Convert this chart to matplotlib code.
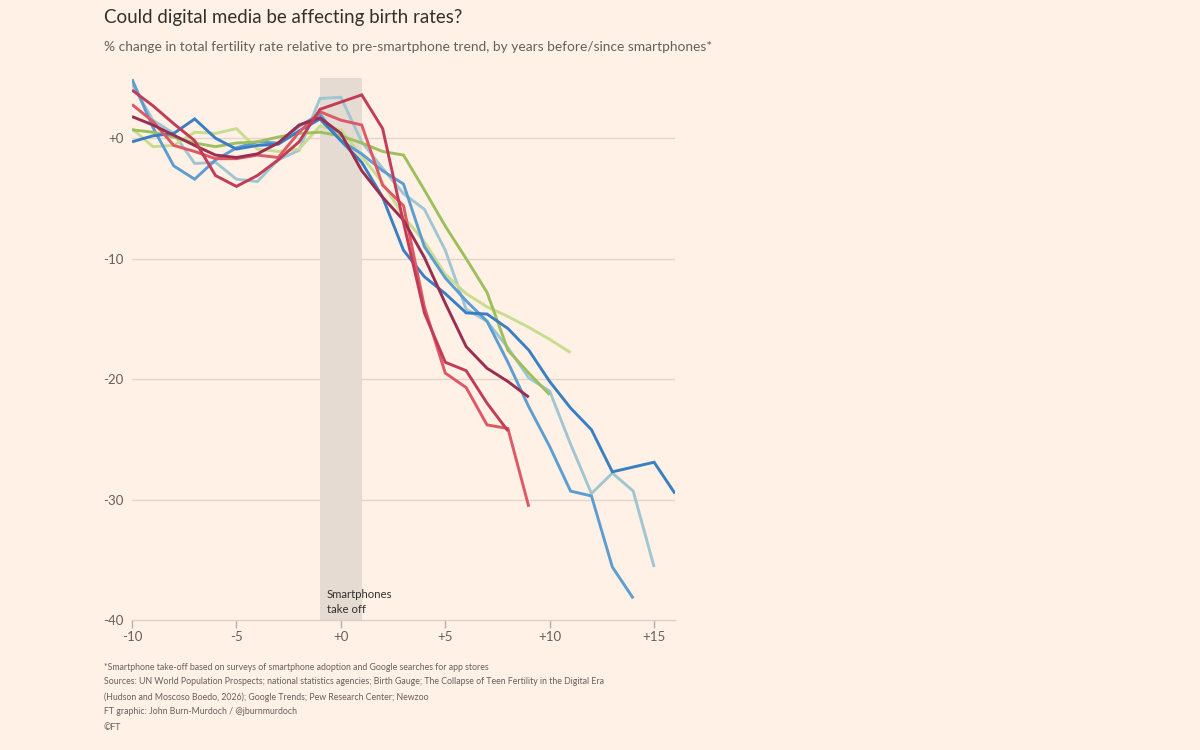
import matplotlib
matplotlib.use("Agg")
import matplotlib.pyplot as plt

# ---------------- data ----------------
years_b1 = list(range(-10, 17))
dark_blue = [-0.3, 0.2, 0.4, 1.6, 0.0, -0.9, -0.6, -0.5, 0.6, 1.6, -0.2, -2.0, -4.9, -9.3,
             -11.5, -12.9, -14.5, -14.6, -15.8, -17.6, -20.2, -22.4, -24.2, -27.7, -27.3, -26.9, -29.5]

years_b2 = list(range(-10, 15))
mid_blue = [4.9, 0.9, -2.3, -3.4, -1.8, -0.8, -0.3, -0.4, 1.0, 2.0, -0.2, -1.3, -2.7, -3.8,
            -9.0, -11.6, -13.5, -15.2, -18.6, -22.3, -25.6, -29.3, -29.7, -35.6, -38.2]

years_b3 = list(range(-10, 16))
light_blue = [4.5, 1.5, 0.4, -2.1, -2.0, -3.4, -3.6, -1.8, -1.0, 3.3, 3.4, -0.3, -2.5, -4.6,
              -5.9, -9.3, -14.2, -15.2, -17.4, -19.9, -21.0, -25.4, -29.5, -27.8, -29.3, -35.6]

years_g1 = list(range(-10, 12))
light_green = [0.8, -0.7, -0.6, 0.5, 0.4, 0.8, -0.9, -1.1, -0.9, 1.0, 0.7, -1.5, -3.7, -6.5,
               -8.6, -11.3, -12.9, -14.0, -14.8, -15.7, -16.7, -17.8]

years_g2 = list(range(-10, 11))
green = [0.7, 0.5, 0.1, -0.4, -0.7, -0.4, -0.3, 0.1, 0.4, 0.5, 0.2, -0.4, -1.1, -1.4,
         -4.3, -7.3, -10.0, -12.8, -17.6, -19.5, -21.3]

years_r1 = list(range(-10, 10))
maroon = [1.8, 1.1, 0.25, -0.6, -1.4, -1.6, -1.3, -0.4, 1.1, 1.7, 0.4, -2.7, -4.9, -6.8,
          -9.9, -13.7, -17.3, -19.1, -20.2, -21.5]

years_r2 = list(range(-10, 9))
crimson = [4.0, 2.7, 1.2, -0.2, -3.1, -4.0, -3.1, -1.8, -0.3, 2.4, 3.0, 3.6, 0.8, -7.0,
           -14.5, -18.6, -19.3, -22.0, -24.3]

years_r3 = list(range(-10, 10))
red = [2.8, 1.4, -0.6, -1.1, -1.7, -1.7, -1.4, -1.6, 0.5, 2.2, 1.5, 1.1, -3.9, -5.6,
       -14.0, -19.5, -20.7, -23.8, -24.1, -30.6]

series = [
    (years_b3, light_blue, "#a0c6d3"),
    (years_g1, light_green, "#c9dc8f"),
    (years_b2, mid_blue, "#5d9dd1"),
    (years_g2, green, "#9dbf5e"),
    (years_b1, dark_blue, "#3a7ec3"),
    (years_r3, red, "#de5865"),
    (years_r1, maroon, "#9b2d51"),
    (years_r2, crimson, "#c23b57"),
]

x_ticks = [-10, -5, 0, 5, 10, 15]
x_tick_labels = ["-10", "-5", "+0", "+5", "+10", "+15"]
y_ticks = [0, -10, -20, -30, -40]
y_tick_labels = ["+0", "-10", "-20", "-30", "-40"]

title = "Could digital media be affecting birth rates?"
subtitle = "% change in total fertility rate relative to pre-smartphone trend, by years before/since smartphones*"
notes = [
    "*Smartphone take-off based on surveys of smartphone adoption and Google searches for app stores",
    "Sources: UN World Population Prospects; national statistics agencies; Birth Gauge; The Collapse of Teen Fertility in the Digital Era",
    "(Hudson and Moscoso Boedo, 2026); Google Trends; Pew Research Center; Newzoo",
    "FT graphic: John Burn-Murdoch / @jburnmurdoch",
    "\u00a9FT",
]

# ---------------- style ----------------
BG = "#fff1e5"
TXT = "#33302e"
SUB = "#66605c"
plt.rcParams["font.family"] = ["Lato", "DejaVu Sans"]

fig = plt.figure(figsize=(12, 7.5), dpi=100, facecolor=BG)
ax = fig.add_axes([132 / 1200, 1 - 620 / 750, (675 - 132) / 1200, (620 - 78) / 750])
ax.set_facecolor(BG)

ax.set_xlim(-10, 16)
ax.set_ylim(-40, 5)

# shaded take-off band
ax.axvspan(-1, 1, color="#e5dbd2", zorder=1, lw=0)

# grid
for yv in y_ticks[:-1]:
    ax.axhline(yv, color="#e2d5c9", lw=1, zorder=0.5)

for xs, ys, c in series:
    ax.plot(xs, ys, color=c, lw=2.1, zorder=3, solid_joinstyle="miter", solid_capstyle="butt")

for s in ["top", "right", "left"]:
    ax.spines[s].set_visible(False)
ax.spines["bottom"].set_color("#dcd0c5")
ax.spines["bottom"].set_linewidth(1)

ax.set_xticks(x_ticks)
ax.set_xticklabels(x_tick_labels)
ax.set_yticks(y_ticks)
ax.set_yticklabels(y_tick_labels)
ax.tick_params(axis="x", length=6, width=1, color="#b8aea6", labelsize=9.5, labelcolor=SUB, pad=2)
ax.tick_params(axis="y", length=0, labelsize=9.5, labelcolor=SUB, pad=6)

ax.text(-0.68, -37.4, "Smartphones\ntake off", ha="left", va="top", fontsize=8.2,
        color=TXT, linespacing=1.45, zorder=4)

fig.text(104 / 1200, 1 - 18 / 750, title, ha="left", va="center", fontsize=13.5, color=TXT)
fig.text(104 / 1200, 1 - 47 / 750, subtitle, ha="left", va="center", fontsize=9.9, color=SUB)

note_y = [667, 682, 697, 712, 727]
for t, yy in zip(notes, note_y):
    fig.text(104 / 1200, 1 - yy / 750, t, ha="left", va="center", fontsize=6.3,
             color=SUB)

fig.savefig("out.png", dpi=100, facecolor=BG)
